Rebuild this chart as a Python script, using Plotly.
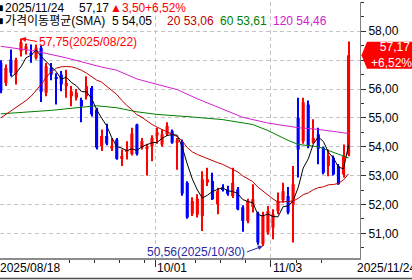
import plotly.graph_objects as go

# ---------------- data ----------------
dates = [
    "2025/08/18", "2025/08/19", "2025/08/20", "2025/08/21", "2025/08/22",
    "2025/08/25", "2025/08/26", "2025/08/27", "2025/08/28", "2025/08/29",
    "2025/09/02", "2025/09/03", "2025/09/04", "2025/09/05",
    "2025/09/08", "2025/09/09", "2025/09/10", "2025/09/11", "2025/09/12",
    "2025/09/15", "2025/09/16", "2025/09/17", "2025/09/18", "2025/09/19",
    "2025/09/22", "2025/09/23", "2025/09/24", "2025/09/25", "2025/09/26",
    "2025/09/29", "2025/09/30",
    "2025/10/01", "2025/10/02", "2025/10/03",
    "2025/10/06", "2025/10/07", "2025/10/08", "2025/10/09", "2025/10/10",
    "2025/10/13", "2025/10/14", "2025/10/15", "2025/10/16", "2025/10/17",
    "2025/10/20", "2025/10/21", "2025/10/22", "2025/10/23", "2025/10/24",
    "2025/10/27", "2025/10/28", "2025/10/29", "2025/10/30", "2025/10/31",
    "2025/11/03", "2025/11/04", "2025/11/05", "2025/11/06", "2025/11/07",
    "2025/11/10", "2025/11/11", "2025/11/12", "2025/11/13", "2025/11/14",
    "2025/11/17", "2025/11/18", "2025/11/19", "2025/11/20", "2025/11/21",
    "2025/11/24",
]

opens = [56.90, 56.21, 57.02, 56.50, 57.31, 57.37, 57.25, 57.08, 57.43, 55.87,
         56.73, 56.40, 56.50, 56.10, 55.75, 55.70, 55.62, 55.75, 56.04, 55.29,
         54.02, 54.37, 53.95, 54.25, 53.58, 53.85, 53.75, 54.77, 53.98, 53.92,
         54.02, 54.39, 54.08, 54.43, 54.54, 54.14, 54.17, 52.75, 51.68, 51.65,
         51.60, 52.76, 52.81, 52.00, 52.58, 52.52, 52.29, 52.52, 51.90, 51.43,
         51.92, 51.70, 50.62, 51.03, 51.20, 51.77, 52.15, 52.29, 52.00, 55.00,
         54.19, 55.46, 54.14, 54.43, 53.97, 53.33, 53.62, 53.33, 53.04, 53.73]
highs = [57.00, 56.85, 57.37, 57.08, 57.75, 57.58, 57.54, 57.54, 57.50, 56.90,
         56.90, 56.55, 56.62, 56.67, 56.10, 56.00, 55.70, 56.44, 56.10, 55.35,
         54.60, 54.80, 54.30, 54.30, 53.90, 54.19, 54.66, 54.80, 54.30, 54.10,
         54.40, 54.66, 54.60, 54.85, 54.60, 54.30, 54.25, 52.80, 52.25, 52.35,
         53.15, 53.27, 53.10, 52.58, 52.70, 52.65, 53.27, 52.60, 51.97, 52.20,
         52.70, 51.75, 51.75, 51.95, 51.83, 52.41, 52.75, 52.60, 53.33, 55.70,
         55.70, 55.60, 54.95, 54.66, 54.00, 53.90, 53.70, 53.40, 54.08, 57.65]
lows = [55.85, 56.10, 56.44, 56.16, 57.13, 57.20, 56.91, 57.02, 55.55, 55.75,
        56.30, 55.46, 55.92, 55.70, 55.40, 55.60, 54.85, 55.64, 55.05, 53.90,
        53.85, 54.05, 53.85, 53.55, 53.33, 53.56, 53.70, 53.70, 53.90, 53.00,
        53.50, 54.10, 54.00, 54.37, 54.10, 53.20, 52.30, 51.50, 51.60, 51.55,
        51.08, 52.64, 52.15, 51.66, 52.45, 52.30, 52.22, 51.80, 51.05, 51.35,
        51.72, 50.60, 50.56, 50.95, 50.79, 51.66, 52.06, 51.66, 50.68, 52.93,
        54.10, 53.95, 54.10, 53.39, 53.05, 52.98, 53.00, 52.68, 52.93, 53.67]
closes = [55.95, 56.73, 56.56, 57.00, 57.62, 57.48, 57.20, 57.43, 55.90, 56.79,
          56.50, 56.37, 56.16, 56.21, 55.92, 55.87, 55.40, 56.10, 55.12, 53.97,
          54.37, 54.11, 54.02, 53.58, 53.68, 53.90, 54.45, 53.75, 54.20, 54.00,
          54.31, 54.50, 54.43, 54.71, 54.14, 54.23, 52.38, 51.55, 52.12, 52.20,
          52.87, 52.87, 52.18, 52.46, 52.50, 52.36, 52.75, 51.83, 51.43, 52.12,
          52.18, 50.68, 51.60, 51.77, 51.66, 52.12, 52.46, 51.72, 52.70, 53.90,
          55.54, 54.02, 54.31, 53.93, 53.10, 53.68, 53.04, 52.70, 53.67, 57.17]

ma5 = [None, None, 56.40, 56.55, 56.77, 57.08, 57.17, 57.35, 57.13, 56.96,
       56.76, 56.60, 56.34, 56.41, 56.23, 56.11, 55.91, 55.90, 55.68, 55.29,
       54.99, 54.73, 54.32, 54.01, 53.95, 53.86, 53.93, 53.87, 54.00, 54.06,
       54.14, 54.15, 54.29, 54.39, 54.42, 54.40, 53.98, 53.40, 52.88, 52.50,
       52.22, 52.32, 52.45, 52.52, 52.58, 52.47, 52.45, 52.38, 52.17, 52.10,
       52.06, 51.65, 51.60, 51.67, 51.58, 51.57, 51.92, 51.95, 52.13, 52.58,
       53.26, 53.58, 54.09, 54.34, 54.18, 53.81, 53.61, 53.29, 53.24, 54.05]
ma20 = [55.00, 55.12, 55.23, 55.35, 55.46, 55.60, 55.75, 55.95, 56.15, 56.40,
        56.60, 56.72, 56.77, 56.78, 56.77, 56.72, 56.65, 56.55, 56.43, 56.31,
        56.24, 56.10, 55.98, 55.81, 55.61, 55.43, 55.29, 55.11, 55.02, 54.88,
        54.77, 54.68, 54.59, 54.52, 54.43, 54.35, 54.20, 53.97, 53.82, 53.73,
        53.66, 53.59, 53.50, 53.45, 53.39, 53.31, 53.23, 53.13, 52.99, 52.90,
        52.79, 52.60, 52.46, 52.31, 52.19, 52.08, 52.09, 52.09, 52.12, 52.21,
        52.34, 52.40, 52.51, 52.58, 52.61, 52.68, 52.69, 52.73, 52.85, 53.06]
ma60_pos = [0, 10, 19, 23, 27, 31, 38, 44, 50, 53, 57, 59, 63, 66, 69]
ma60_val = [55.14, 55.26, 55.42, 55.35, 55.21, 55.12, 55.03, 54.94, 54.77,
            54.56, 54.22, 54.08, 54.00, 53.80, 53.61]
ma120_pos = [0, 7, 13, 20, 23, 27, 31, 35, 39, 44, 48, 53, 57, 59, 63, 69]
ma120_val = [57.48, 57.31, 57.08, 56.76, 56.65, 56.35, 56.16, 55.98, 55.66,
             55.29, 55.02, 54.82, 54.71, 54.66, 54.60, 54.46]

y_ticks = [51, 52, 53, 54, 55, 56, 57, 58]
week_tick_dates = ["2025/09/08", "2025/09/15", "2025/09/22", "2025/09/29",
                   "2025/10/13", "2025/10/20", "2025/10/27",
                   "2025/11/10", "2025/11/17"]
month_tick_dates = ["2025/10/01", "2025/11/03"]
month_tick_labels = ["10/01", "11/03"]

# ---------------- helpers ----------------
W, H = 412, 280
ML, MR, MT, MB = 0, 52, 2, 22
PW, PH = W - ML - MR, H - MT - MB
FONT = "Liberation Sans, Noto Sans CJK KR, sans-serif"
RED, BLUE = "#ff0000", "#0000ff"
C20, C60, C120 = "#c00000", "#008000", "#d020d0"


def fmt(v):
    return f"{v:.2f}".replace(".", ",")


def px(xp):
    return (xp - ML) / PW


def py(yp):
    return (H - MB - yp) / PH


n = len(dates)
idx = list(range(n))
up = [c >= o for o, c in zip(opens, closes)]
colors = [RED if u else BLUE for u in up]
body_base = [min(o, c) for o, c in zip(opens, closes)]
body_h = [max(abs(c - o), 0.035) for o, c in zip(opens, closes)]
wick_h = [h - l for h, l in zip(highs, lows)]

last = closes[-1]
prev = closes[-2]
chg = last - prev
pct = chg / prev * 100

fig = go.Figure()
fig.add_trace(go.Bar(x=idx, y=wick_h, base=lows, width=0.2,
                     marker=dict(color=colors, line=dict(width=0)),
                     hoverinfo="skip"))
fig.add_trace(go.Bar(x=idx, y=body_h, base=body_base, width=0.62,
                     marker=dict(color=colors, line=dict(width=0)),
                     hoverinfo="skip"))
fig.add_trace(go.Scatter(x=ma120_pos, y=ma120_val, mode="lines",
                         line=dict(color=C120, width=1)))
fig.add_trace(go.Scatter(x=ma60_pos, y=ma60_val, mode="lines",
                         line=dict(color=C60, width=1)))
fig.add_trace(go.Scatter(x=idx, y=ma20, mode="lines",
                         line=dict(color=C20, width=1)))
fig.add_trace(go.Scatter(x=idx, y=ma5, mode="lines",
                         line=dict(color="black", width=1)))

off = 0.4
week_pos = [dates.index(d) - off for d in week_tick_dates]
month_pos = [dates.index(d) - off for d in month_tick_dates]
# the price tag hides the tick label it sits on
y_text = ["" if abs(v - last) < 0.5 else fmt(v) for v in y_ticks]

fig.update_layout(
    width=W, height=H, autosize=False,
    margin=dict(l=ML, r=MR, t=MT, b=MB, pad=0),
    paper_bgcolor="white", plot_bgcolor="white",
    showlegend=False, barmode="overlay",
    font=dict(family=FONT, size=12, color="black"),
    xaxis=dict(range=[-0.16, -0.16 + PW / 5.04], tickmode="array",
               tickvals=month_pos, showticklabels=False, ticks="outside",
               ticklen=7, tickcolor="#303030", tickwidth=1,
               showgrid=True, gridcolor="#c4c4c4", griddash="4px,3px",
               gridwidth=1, zeroline=False, showline=True,
               linecolor="#8c8c8c", linewidth=2,
               minor=dict(tickvals=week_pos, ticks="outside", ticklen=3,
                          tickcolor="#303030", showgrid=False),
               fixedrange=True),
    yaxis=dict(side="right", range=[50.144, 59.015], tickmode="array",
               tickvals=y_ticks, ticktext=y_text,
               ticks="outside", ticklen=5, tickcolor="#303030",
               showgrid=True, gridcolor="#c4c4c4", griddash="4px,3px",
               gridwidth=1, zeroline=False, showline=True,
               linecolor="#808080", linewidth=1,
               tickfont=dict(family=FONT, size=12, color="black"),
               minor=dict(dtick=0.5, tick0=0, ticks="outside", ticklen=3,
                          tickcolor="#303030", showgrid=False),
               fixedrange=True),
)

ann = []


def txt(xpix, ypix, text, color="black", anchor="left", size=12):
    ann.append(dict(xref="paper", yref="paper", x=px(xpix), y=py(ypix),
                    text=text, showarrow=False, xanchor=anchor,
                    yanchor="middle", font=dict(family=FONT, size=size,
                                                color=color)))


# header line 1
txt(-6, 8, "■")
txt(3, 8, dates[-1])
txt(77, 8, fmt(last))
txt(108, 8, "▲" + fmt(chg), RED)
txt(143, 8, "+" + fmt(pct) + "%", RED)
# header line 2
txt(-6, 21, "■")
txt(3, 21, "가격이동평균(SMA)")
txt(110, 21, "5 " + fmt(ma5[-1]))
txt(165, 21, "20 " + fmt(ma20[-1]), C20)
txt(218, 21, "60 " + fmt(ma60_val[-1]), C60)
txt(271, 21, "120 " + fmt(ma120_val[-1]), C120)

# x labels
ann.append(dict(xref="x", yref="paper", x=0, y=py(268), text=dates[0],
                showarrow=False, xanchor="left", yanchor="middle", xshift=-3))
for d, lab in zip(month_tick_dates, month_tick_labels):
    ann.append(dict(xref="x", yref="paper", x=dates.index(d) - off,
                    y=py(268), text=lab, showarrow=False, xanchor="left",
                    yanchor="middle", xshift=0))
ann.append(dict(xref="x", yref="paper", x=n - 1, y=py(268), text=dates[-1],
                showarrow=False, xanchor="left", yanchor="middle", xshift=6))

# high / low markers
hi_i = highs.index(max(highs))
lo_i = lows.index(min(lows))
ann.append(dict(xref="x", yref="y", x=hi_i, y=highs[hi_i],
                text=f"{fmt(highs[hi_i])}({dates[hi_i]})", showarrow=True,
                arrowhead=2, arrowsize=1, arrowwidth=1, arrowcolor=RED,
                ax=16, ay=3, xanchor="left", yanchor="middle",
                font=dict(color=RED, size=12, family=FONT)))
ann.append(dict(xref="x", yref="y", x=lo_i, y=lows[lo_i],
                text=f"{fmt(lows[lo_i])}({dates[lo_i]})", showarrow=True,
                arrowhead=2, arrowsize=1, arrowwidth=1, arrowcolor="#2a2aa8",
                ax=-16, ay=6, xanchor="right", yanchor="middle",
                font=dict(color="#2a2aa8", size=12, family=FONT)))

# price tag (single two-line text)
ann.append(dict(xref="paper", yref="y", x=px(371), y=last,
                text=f"&nbsp;&nbsp;{fmt(last)}<br>+{fmt(pct)}%",
                showarrow=False, xanchor="left", yanchor="middle",
                align="center", borderpad=0, borderwidth=0,
                font=dict(color="white", size=12, family=FONT)))
fig.update_layout(annotations=ann)

h = 0.47
x_pt, x_sh, x_end = px(361.5), px(367), px(440)
fig.add_shape(type="path", xref="paper", yref="y",
              path=(f"M {x_pt},{last} L {x_sh},{last + h} L {x_end},{last + h} "
                    f"L {x_end},{last - h} L {x_sh},{last - h} Z"),
              fillcolor=RED, line=dict(width=0), layer="above")
fig.add_shape(type="line", xref="paper", yref="paper", x0=px(0), x1=px(412),
              y0=py(278.5), y1=py(278.5), line=dict(color="#505050", width=1.5))

fig.write_html("out.html")
